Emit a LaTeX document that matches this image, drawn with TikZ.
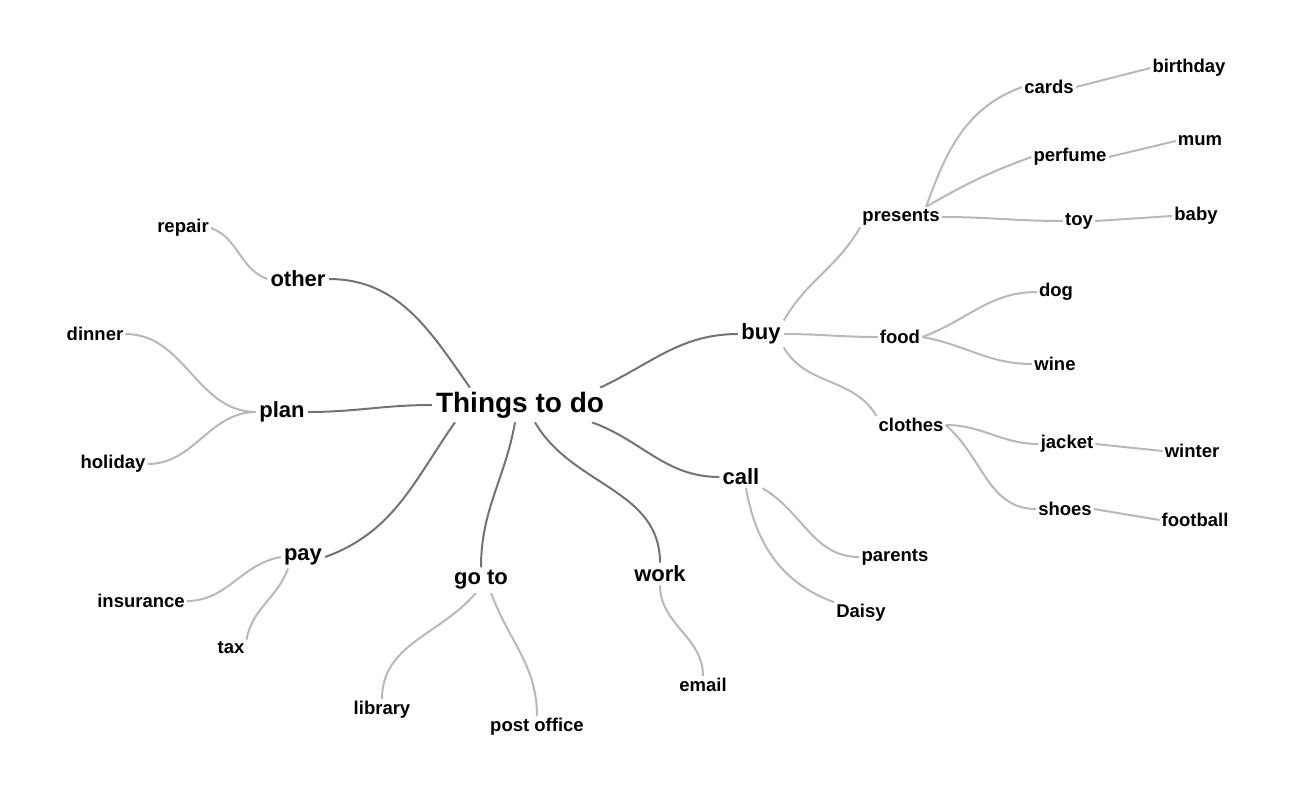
\documentclass[tikz,border=0pt]{standalone}
\usepackage{fontspec}
\setmainfont{Liberation Sans}
\usetikzlibrary{backgrounds}
\begin{document}
\begin{tikzpicture}[x=1pt,y=-1pt,
  lbl/.style={fill=white,inner sep=2pt,font=\bfseries\fontsize{18.5}{20}\selectfont},
  lone/.style={fill=white,inner sep=3pt,font=\bfseries\fontsize{22}{24}\selectfont},
  mainn/.style={fill=white,inner sep=4pt,font=\bfseries\fontsize{28}{32}\selectfont},
  dk/.style={draw=black!55,line width=2pt},
  lt/.style={draw=black!28,line width=2pt}]
\useasboundingbox (0,0) rectangle (1298,796);
\node[mainn] (c) at (520,405) {Things to do};
\node[lone] (other) at (298,279) {other};
\node[lone] (plan) at (282,412) {plan};
\node[lone] (pay) at (303,557) {pay};
\node[lone] (goto) at (481,580) {go to};
\node[lone] (work) at (660,574) {work};
\node[lone] (call) at (741,477) {call};
\node[lone] (buy) at (761,334) {buy};
\node[lbl] (repair) at (183,228) {repair};
\node[lbl] (dinner) at (95,334) {dinner};
\node[lbl] (holiday) at (113,464) {holiday};
\node[lbl] (insurance) at (141,601) {insurance};
\node[lbl] (tax) at (231,648) {tax};
\node[lbl] (library) at (382,710) {library};
\node[lbl] (post) at (537,727) {post office};
\node[lbl] (email) at (703,685) {email};
\node[lbl] (parents) at (895,557) {parents};
\node[lbl] (daisy) at (861,613) {Daisy};
\node[lbl] (presents) at (901,217) {presents};
\node[lbl] (food) at (900,337) {food};
\node[lbl] (clothes) at (911,425) {clothes};
\node[lbl] (cards) at (1049,87) {cards};
\node[lbl] (perfume) at (1070,157) {perfume};
\node[lbl] (toy) at (1079,221) {toy};
\node[lbl] (birthday) at (1189,68) {birthday};
\node[lbl] (mum) at (1200,141) {mum};
\node[lbl] (baby) at (1196,216) {baby};
\node[lbl] (dog) at (1056,292) {dog};
\node[lbl] (wine) at (1055,364) {wine};
\node[lbl] (jacket) at (1067,444) {jacket};
\node[lbl] (shoes) at (1065,509) {shoes};
\node[lbl] (winter) at (1192,451) {winter};
\node[lbl] (football) at (1195,520) {football};
\begin{scope}[on background layer]
\draw[dk] ([xshift=-50pt]c.north) to[out=125,in=0] (other.east);
\draw[dk] (c.west) to[out=180,in=0] (plan.east);
\draw[dk] ([xshift=-65pt]c.south) to[out=235,in=20] (pay.east);
\draw[dk] ([xshift=-5pt]c.south) to[out=260,in=90] (goto.north);
\draw[dk] ([xshift=15pt]c.south) to[out=-60,in=90] (work.north);
\draw[dk] ([xshift=72pt]c.south) to[out=-20,in=180] (call.west);
\draw[dk] ([xshift=80pt]c.north) to[out=25,in=180] (buy.west);
\draw[lt] (buy.north east) to[out=60,in=240] (presents.south west);
\draw[lt] (buy.east) to[out=0,in=180] (food.west);
\draw[lt] (buy.south east) to[out=-60,in=120] (clothes.north west);
\draw[lt] ([xshift=25pt]presents.north) to[out=70,in=200] (cards.west);
\draw[lt] ([xshift=25pt]presents.north) to[out=30,in=200] (perfume.west);
\draw[lt] (presents.east) to[out=0,in=180] (toy.west);
\draw[lt] (cards.east) -- (birthday.west);
\draw[lt] (perfume.east) -- (mum.west);
\draw[lt] (toy.east) -- (baby.west);
\draw[lt] (food.east) to[out=20,in=180] (dog.west);
\draw[lt] (food.east) to[out=-10,in=180] (wine.west);
\draw[lt] (clothes.east) to[out=0,in=180] (jacket.west);
\draw[lt] (clothes.east) to[out=-40,in=180] (shoes.west);
\draw[lt] (jacket.east) -- (winter.west);
\draw[lt] (shoes.east) -- (football.west);
\draw[lt] (call.south east) to[out=-30,in=180] (parents.west);
\draw[lt] ([xshift=5pt]call.south) to[out=-80,in=160] (daisy.north west);
\draw[lt] (work.south) to[out=-90,in=90] (email.north);
\draw[lt] ([xshift=-5pt]goto.south) to[out=230,in=90] (library.north);
\draw[lt] ([xshift=10pt]goto.south) to[out=-70,in=90] (post.north);
\draw[lt] (pay.west) to[out=190,in=0] (insurance.east);
\draw[lt] ([xshift=-15pt]pay.south) to[out=250,in=80] (tax.north east);
\draw[lt] (plan.west) to[out=180,in=0] (dinner.east);
\draw[lt] (plan.west) to[out=180,in=0] (holiday.east);
\draw[lt] (other.west) to[out=160,in=-20] (repair.east);
\end{scope}
\end{tikzpicture}
\end{document}
